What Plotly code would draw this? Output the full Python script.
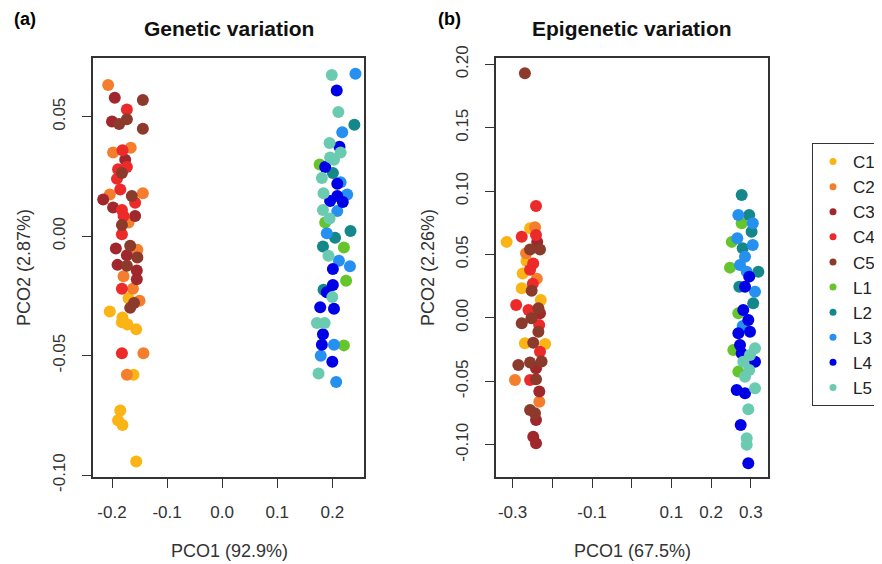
import plotly.graph_objects as go

groups = ["C1", "C2", "C3", "C4", "C5", "L1", "L2", "L3", "L4", "L5"]
colors = ["#FBB415", "#F47E2C", "#A0282C", "#EC2A2A", "#8B3A2C",
          "#66C52A", "#14878A", "#2690F0", "#0000E6", "#6ACBB0"]

# (a) Genetic variation: PCO1 / PCO2 coordinates per group
gen_x = {
    "C1": [-0.170, -0.204, -0.181, -0.182, -0.172, -0.156, -0.161, -0.185, -0.189, -0.181, -0.156],
    "C2": [-0.207, -0.198, -0.166, -0.204, -0.144, -0.170, -0.154, -0.179, -0.162, -0.150, -0.143, -0.173],
    "C3": [-0.195, -0.200, -0.176, -0.216, -0.198, -0.158, -0.193, -0.173, -0.190, -0.155, -0.155],
    "C4": [-0.173, -0.181, -0.189, -0.173, -0.191, -0.185, -0.158, -0.182, -0.179, -0.182, -0.182, -0.182],
    "C5": [-0.144, -0.187, -0.173, -0.144, -0.182, -0.164, -0.182, -0.167, -0.154, -0.173, -0.167, -0.160],
    "L1": [0.177, 0.187, 0.221, 0.225, 0.221],
    "L2": [0.240, 0.201, 0.233, 0.205, 0.183, 0.184],
    "L3": [0.242, 0.218, 0.215, 0.227, 0.209, 0.190, 0.212, 0.232, 0.203, 0.179, 0.207],
    "L4": [0.208, 0.213, 0.187, 0.209, 0.196, 0.209, 0.219, 0.201, 0.201, 0.190, 0.178, 0.203, 0.183, 0.181, 0.200],
    "L5": [0.199, 0.211, 0.195, 0.215, 0.196, 0.203, 0.181, 0.184, 0.183, 0.195, 0.193, 0.200, 0.172, 0.186, 0.175],
}
gen_y = {
    "C1": [-0.026, -0.0315, -0.034, -0.036, -0.037, -0.039, -0.058, -0.073, -0.077, -0.079, -0.0943],
    "C2": [0.0633, 0.035, 0.037, 0.0175, 0.018, 0.0057, -0.0057, -0.0168, -0.022, -0.027, -0.049, -0.058],
    "C3": [0.058, 0.048, 0.032, 0.0154, 0.012, 0.0085, -0.0051, -0.008, -0.012, -0.0144, -0.018],
    "C4": [0.053, 0.036, 0.028, 0.029, 0.024, 0.0196, 0.014, 0.011, 0.0085, 0.0008, -0.022, -0.049],
    "C5": [0.057, 0.047, 0.049, 0.045, 0.0265, 0.0168, 0.0047, -0.004, -0.0089, -0.0124, -0.030, -0.028],
    "L1": [0.030, 0.0057, -0.0047, -0.0186, -0.0457],
    "L2": [0.0467, 0.0265, 0.0022, -0.0006, -0.0043, -0.0224],
    "L3": [0.068, 0.0435, 0.0226, 0.0175, 0.0105, 0.0012, -0.0103, -0.0126, -0.0454, -0.050, -0.061],
    "L4": [0.061, 0.0374, 0.029, 0.022, 0.0147, 0.0168, 0.0143, -0.0137, -0.0204, -0.0235, -0.0297, -0.0304, -0.041, -0.0454, -0.0526],
    "L5": [0.0675, 0.052, 0.039, 0.035, 0.033, 0.032, 0.0244, 0.018, 0.011, 0.0074, -0.0082, -0.0255, -0.0363, -0.0363, -0.0575],
}

# (b) Epigenetic variation
epi_x = {
    "C1": [-0.315, -0.256, -0.2745, -0.277, -0.229, -0.269, -0.218, -0.265],
    "C2": [-0.2435, -0.266, -0.239, -0.294, -0.2327, -0.250],
    "C3": [-0.238, -0.231, -0.241, -0.2327, -0.241, -0.248, -0.241],
    "C4": [-0.241, -0.277, -0.241, -0.248, -0.256, -0.249, -0.291, -0.260, -0.233, -0.231, -0.256],
    "C5": [-0.269, -0.256, -0.231, -0.252, -0.235, -0.277, -0.2526, -0.235, -0.248, -0.2856, -0.256, -0.227, -0.241, -0.256, -0.2436],
    "L1": [0.277, 0.252, 0.2476, 0.2686, 0.256, 0.2686],
    "L2": [0.277, 0.296, 0.302, 0.2796, 0.319, 0.271, 0.306],
    "L3": [0.2686, 0.305, 0.266, 0.305, 0.2854, 0.2728, 0.2897, 0.3106, 0.2796],
    "L4": [0.296, 0.2854, 0.281, 0.2937, 0.2686, 0.298, 0.2728, 0.277, 0.3106, 0.2645, 0.2854, 0.2745, 0.2937],
    "L5": [0.3106, 0.298, 0.281, 0.296, 0.2854, 0.3106, 0.2937, 0.2897, 0.2897],
}
epi_y = {
    "C1": [0.060, 0.0707, 0.035, 0.0234, 0.0142, -0.020, -0.0205, 0.045],
    "C2": [0.0715, 0.051, 0.031, -0.049, -0.066, 0.0],
    "C3": [0.060, 0.0037, -0.0397, -0.058, -0.0804, -0.0936, -0.0988],
    "C4": [0.0883, 0.064, 0.0655, 0.043, 0.038, 0.027, 0.0103, 0.0063, -0.0055, -0.0266, -0.049],
    "C5": [0.193, 0.054, 0.054, 0.0215, 0.0076, -0.0042, -0.0003, -0.0108, -0.0195, -0.037, -0.0352, -0.0344, -0.0484, -0.0726, -0.0752],
    "L1": [0.0747, 0.060, 0.0397, 0.0037, -0.0252, -0.0423],
    "L2": [0.097, 0.0812, 0.068, 0.055, 0.0365, 0.0247, 0.0116],
    "L3": [0.0812, 0.0747, 0.0628, 0.0576, 0.0483, 0.0418, 0.0365, 0.0207, -0.0063],
    "L4": [0.0326, 0.0247, 0.0063, -0.0016, -0.0121, -0.0108, -0.0213, -0.0278, -0.0345, -0.0568, -0.0594, -0.0844, -0.1146],
    "L5": [-0.0239, -0.0292, -0.0345, -0.041, -0.0463, -0.0555, -0.072, -0.0949, -0.1],
}

gen_xticks = [-0.2, -0.1, 0.0, 0.1, 0.2]
gen_xlabels = ["-0.2", "-0.1", "0.0", "0.1", "0.2"]
gen_yticks = [-0.10, -0.05, 0.00, 0.05]
gen_ylabels = ["-0.10", "-0.05", "0.00", "0.05"]
epi_xticks = [-0.3, -0.2, -0.1, 0.0, 0.1, 0.2, 0.3]
epi_xlabels = ["-0.3", "", "-0.1", "", "0.1", "0.2", "0.3"]
epi_yticks = [-0.10, -0.05, 0.00, 0.05, 0.10, 0.15, 0.20]
epi_ylabels = ["-0.10", "-0.05", "0.00", "0.05", "0.10", "0.15", "0.20"]

# page body has an 8px margin, so the figure is sized to fit the window
OFF = 8
W, H = 882 - OFF, 564 - OFF
FONT = "Liberation Sans, Arial, sans-serif"
AX = "#333333"


def fx(px):
    return (px - OFF) / W


def fy(py):
    return 1 - (py - OFF) / H


fig = go.Figure()
for g, c in zip(groups, colors):
    fig.add_trace(go.Scatter(x=gen_x[g], y=gen_y[g], mode="markers", xaxis="x", yaxis="y",
                             marker=dict(size=12, color=c), showlegend=False, hoverinfo="skip"))
    fig.add_trace(go.Scatter(x=epi_x[g], y=epi_y[g], mode="markers", xaxis="x2", yaxis="y2",
                             marker=dict(size=12, color=c), showlegend=False, hoverinfo="skip"))
# legend entries with small symbols
for g, c in zip(groups, colors):
    fig.add_trace(go.Scatter(x=[None], y=[None], mode="markers", name=g,
                             marker=dict(size=7, color=c), xaxis="x2", yaxis="y2"))

axis_common = dict(showline=True, mirror=True, linecolor=AX, linewidth=1.5, showgrid=False,
                   zeroline=False, ticks="outside", ticklen=9, tickcolor=AX, tickwidth=1.2,
                   tickfont=dict(family=FONT, size=17, color=AX), tickmode="array",
                   automargin=False)

ydom = [fy(477), fy(58)]
fig.update_layout(
    width=W, height=H, margin=dict(l=0, r=0, t=0, b=0, autoexpand=False),
    paper_bgcolor="white", plot_bgcolor="white",
    xaxis=dict(domain=[fx(93), fx(364)], range=[-0.2345, 0.2575], tickvals=gen_xticks,
               ticktext=gen_xlabels, anchor="y", ticklabelstandoff=10, **axis_common),
    yaxis=dict(domain=ydom, range=[-0.1008, 0.0746], tickvals=gen_yticks, ticktext=gen_ylabels,
               anchor="x", tickangle=-90, ticklabelstandoff=10, **axis_common),
    xaxis2=dict(domain=[fx(496), fx(768)], range=[-0.3418, 0.3433], tickvals=epi_xticks,
                ticktext=epi_xlabels, anchor="y2", ticklabelstandoff=10, **axis_common),
    yaxis2=dict(domain=ydom, range=[-0.1254, 0.205], tickvals=epi_yticks, ticktext=epi_ylabels,
                anchor="x2", tickangle=-90, ticklabelstandoff=10, **axis_common),
    legend=dict(x=fx(812), y=fy(143), xanchor="left", yanchor="top",
                bordercolor=AX, borderwidth=1, font=dict(family=FONT, size=17, color="#222"),
                bgcolor="white"),
)

annots = [
    dict(text="<b>(a)</b>", x=12, y=19, xanchor="left", size=18, color="black"),
    dict(text="<b>(b)</b>", x=436, y=19, xanchor="left", size=18, color="black"),
    dict(text="<b>Genetic variation</b>", x=229, y=28, xanchor="center", size=21, color="#111"),
    dict(text="<b>Epigenetic variation</b>", x=632, y=28, xanchor="center", size=21, color="#111"),
    dict(text="PCO1 (92.9%)", x=229, y=551, xanchor="center", size=18, color=AX),
    dict(text="PCO1 (67.5%)", x=632, y=551, xanchor="center", size=18, color=AX),
]
for a in annots:
    fig.add_annotation(text=a["text"], x=fx(a["x"]), y=fy(a["y"]), xref="paper", yref="paper",
                       xanchor=a["xanchor"], yanchor="middle", showarrow=False,
                       font=dict(family=FONT, size=a["size"], color=a["color"]))
for txt, xp in [("PCO2 (2.87%)", 24), ("PCO2 (2.26%)", 428)]:
    fig.add_annotation(text=txt, x=fx(xp), y=fy(268), xref="paper", yref="paper",
                       textangle=-90, showarrow=False, xanchor="center", yanchor="middle",
                       font=dict(family=FONT, size=18, color=AX))

fig.write_html("out.html")
